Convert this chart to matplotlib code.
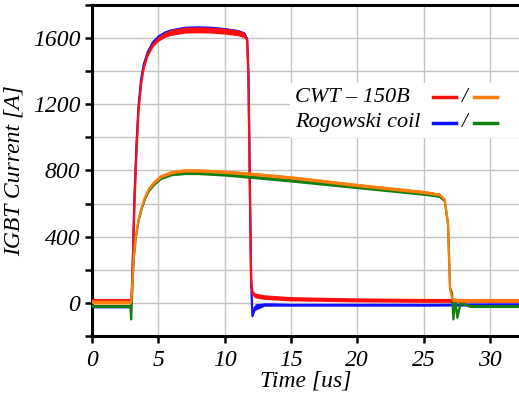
import matplotlib
matplotlib.use("Agg")
from matplotlib import pyplot as plt
from matplotlib.patches import Rectangle
from matplotlib.ticker import MultipleLocator
import numpy as np

# high-current pulse (us, A) and band half-width of the noise
T_HI = [0, 2.95, 3.0, 3.1, 3.2, 3.35, 3.5, 3.7, 3.9, 4.2, 4.6, 5.0, 5.5, 6.0, 7.0, 8.0, 9.0,
        10.0, 11.0, 11.5, 11.7, 11.8, 11.9, 12.0, 12.1, 12.3, 13.0, 15.0, 20.0, 25.0, 30.0, 32.5]
CWT_HI = [15, 15, 60, 300, 600, 900, 1150, 1320, 1420, 1500, 1560, 1595, 1620, 1635, 1648, 1650, 1648,
          1642, 1632, 1618, 1585, 1350, 700, 150, 60, 45, 35, 25, 18, 15, 15, 15]
CWT_HI_NOISE = [12, 12, 0, 0, 0, 0, 0, 0, 5, 10, 12, 14, 16, 18, 18, 18, 18,
                18, 18, 16, 10, 0, 0, 0, 15, 15, 14, 13, 12, 12, 12, 12]
ROG_HI = [-20, -20, 40, 320, 640, 950, 1180, 1350, 1440, 1515, 1575, 1608, 1632, 1645, 1660, 1662, 1660,
          1652, 1640, 1625, 1595, 1380, 760, 120, -80, -25, -10, -12, -12, -12, -10, -10]
ROG_HI_NOISE = [10, 10, 0, 0, 0, 0, 0, 0, 5, 10, 12, 12, 12, 12, 12, 12, 12,
                12, 12, 12, 8, 0, 0, 0, 0, 20, 10, 8, 8, 8, 8, 8]

# low-current pulse
T_LO = [0, 2.9, 2.95, 3.05, 3.15, 3.3, 3.5, 3.75, 4.0, 4.3, 4.7, 5.2, 6.0, 7.0, 8.0, 10.0, 12.0,
        15.0, 20.0, 25.0, 26.2, 26.6, 26.85, 27.0, 27.15, 27.25, 27.4, 27.55, 27.8, 28.5, 30.0, 32.5]
CWT_LO = [5, 5, 5, 120, 280, 400, 500, 580, 640, 690, 730, 765, 790, 800, 800, 792, 780,
          758, 712, 670, 655, 625, 480, 80, 30, 15, 20, 15, 15, 15, 15, 15]
CWT_LO_NOISE = [12, 12, 10, 0, 0, 0, 0, 4, 6, 8, 10, 10, 10, 10, 10, 10, 10,
                10, 10, 10, 8, 4, 0, 0, 10, 10, 10, 10, 10, 10, 10, 10]
ROG_LO = [-20, -20, -100, 100, 270, 390, 490, 570, 630, 680, 720, 755, 778, 785, 785, 776, 762,
          740, 700, 660, 645, 615, 470, 90, 60, -100, 20, -90, 0, -20, -20, -20]
ROG_LO_NOISE = [8, 8, 0, 0, 0, 0, 0, 4, 6, 8, 10, 10, 10, 10, 10, 10, 10,
                10, 10, 10, 8, 4, 0, 0, 0, 0, 0, 0, 8, 8, 8, 8]

plt.rcParams["font.family"] = "Liberation Serif"
plt.rcParams["font.style"] = "italic"

fig = plt.figure(figsize=(5.19, 3.94), dpi=100)
ax = fig.add_axes([92 / 519, 58 / 394, 427 / 519, 331 / 394])

traces = [
    (T_HI, ROG_HI, ROG_HI_NOISE, "#1010ff"),
    (T_HI, CWT_HI, CWT_HI_NOISE, "#ff1010"),
    (T_LO, ROG_LO, ROG_LO_NOISE, "#108010"),
    (T_LO, CWT_LO, CWT_LO_NOISE, "#ff7f0e"),
]
for k, (t, y, n, c) in enumerate(traces):
    t = np.array(t)
    y = np.array(y)
    n = np.array(n)
    ax.fill_between(t, y - n, y + n, color=c, lw=0, zorder=3 + k)
    ax.plot(t, y, color=c, lw=1.6, zorder=3 + k)

ax.set_xlim(0, 32.2)
ax.set_ylim(-200, 1800)
ax.xaxis.set_major_locator(MultipleLocator(5))
ax.yaxis.set_major_locator(MultipleLocator(400))
ax.yaxis.set_minor_locator(MultipleLocator(200))
ax.grid(True, which="both", color="#c4c4c4", lw=1.0, zorder=0)
ax.set_axisbelow(True)

for s in ["left", "bottom", "top"]:
    ax.spines[s].set_linewidth(2.2)
ax.spines["right"].set_visible(False)
ax.tick_params(which="both", direction="out", length=5, width=1.8, labelsize=17)
ax.tick_params(axis="x", pad=5)
for lab in ax.get_xticklabels() + ax.get_yticklabels():
    lab.set_fontstyle("italic")

ax.set_xlabel("Time [us]", fontsize=17, fontstyle="italic", labelpad=0)
ax.set_ylabel("IGBT Current [A]", fontsize=17, fontstyle="italic", labelpad=6)

# legend drawn by hand
ax.add_patch(Rectangle((0.464, 0.598), 0.536, 0.166, transform=ax.transAxes,
                       facecolor="white", edgecolor="none", zorder=20, clip_on=False))
ax.text(0.476, 0.722, "CWT \u2013 150B", transform=ax.transAxes, fontsize=16,
        fontstyle="italic", va="center", zorder=21)
ax.text(0.476, 0.644, "Rogowski coil", transform=ax.transAxes, fontsize=16,
        fontstyle="italic", va="center", zorder=21)
for yy, c1, c2 in [(0.722, "#ff1010", "#ff7f0e"), (0.644, "#1010ff", "#108010")]:
    ax.plot([0.799, 0.852], [yy, yy], color=c1, lw=2.5, transform=ax.transAxes, zorder=21)
    ax.text(0.872, yy, "/", transform=ax.transAxes, fontsize=15, fontstyle="italic",
            va="center", ha="center", zorder=21)
    ax.plot([0.895, 0.948], [yy, yy], color=c2, lw=2.5, transform=ax.transAxes, zorder=21)

fig.savefig("out.png", dpi=100)
